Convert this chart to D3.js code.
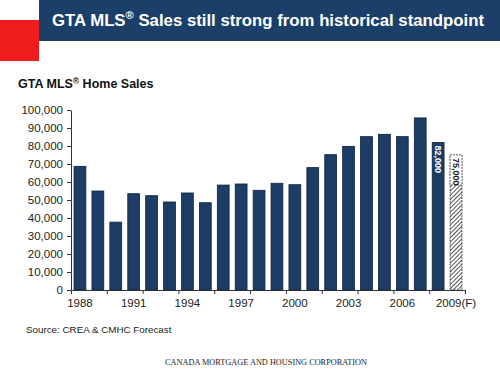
<!DOCTYPE html>
<html>
<head>
<meta charset="utf-8">
<script src="https://d3js.org/d3.v7.min.js"></script>
<style>
  body { margin: 0; background: #fff; }
  svg { display: block; font-family: "Liberation Sans", Arial, sans-serif; }
  .axis text { font-size: 11.5px; fill: #222; }
  .axis path, .axis line { stroke: #333; }
</style>
</head>
<body>
<svg width="500" height="374"></svg>
<script>
// data
var years = ["1988","1989","1990","1991","1992","1993","1994","1995","1996","1997","1998",
             "1999","2000","2001","2002","2003","2004","2005","2006","2007","2008","2009"];
var sales = [68700, 55000, 37700, 53500, 52400, 48900, 53900, 48500, 58300, 58900, 55400,
             59300, 58500, 68000, 75200, 79800, 85200, 86500, 85200, 95600, 82000, 75000];
var yearLabels = ["1988","1991","1994","1997","2000","2003","2006","2009"];
var forecastYear = "2009";
var barLabels = { "2008": "82,000", "2009": "75,000" };

var svg = d3.select("svg");

// header band + red block
svg.append("rect").attr("x", 39).attr("y", 0).attr("width", 461).attr("height", 41).attr("fill", "#1c3f6a");
svg.append("rect").attr("x", 0).attr("y", 20).attr("width", 39).attr("height", 41).attr("fill", "#ee1c1c");

var title = svg.append("text")
  .attr("x", 52).attr("y", 26)
  .attr("fill", "#fff")
  .attr("font-size", "16.5px")
  .attr("font-weight", "bold")
  .attr("textLength", 432)
  .attr("lengthAdjust", "spacingAndGlyphs");
title.append("tspan").text("GTA MLS");
title.append("tspan").attr("font-size", "11px").attr("dy", -7).text("®");
title.append("tspan").attr("dy", 7).text(" Sales still strong from historical standpoint");

var sub = svg.append("text")
  .attr("x", 18).attr("y", 88)
  .attr("fill", "#111")
  .attr("font-size", "12.5px")
  .attr("font-weight", "bold");
sub.append("tspan").text("GTA MLS");
sub.append("tspan").attr("font-size", "8.5px").attr("dy", -4).text("®");
sub.append("tspan").attr("dy", 4).text(" Home Sales");

// scales
var plotLeft = 71, plotRight = 465, plotTop = 110, plotBottom = 290;
var x = d3.scaleBand().domain(years).range([plotLeft, plotRight]).paddingInner(0.34).paddingOuter(0.17);
var y = d3.scaleLinear().domain([0, 100000]).range([plotBottom, plotTop]);
var xb = d3.scaleLinear().domain([0, years.length]).range([plotLeft, plotRight]);

// hatch pattern for the forecast
var defs = svg.append("defs");
var pat = defs.append("pattern")
  .attr("id", "hatch").attr("patternUnits", "userSpaceOnUse")
  .attr("width", 3).attr("height", 3)
  .attr("patternTransform", "rotate(45)");
pat.append("rect").attr("width", 3).attr("height", 3).attr("fill", "#fff");
pat.append("line").attr("x1", 0).attr("y1", 0).attr("x2", 0).attr("y2", 3)
  .attr("stroke", "#2a2a2a").attr("stroke-width", 1.6);

// y axis
svg.append("g")
  .attr("class", "axis")
  .attr("transform", "translate(" + plotLeft + ",0)")
  .call(d3.axisLeft(y).ticks(10).tickFormat(d3.format(",")).tickSize(4).tickSizeOuter(0).tickPadding(4));

// bars
svg.selectAll(".bar")
  .data(years)
  .enter()
  .append("rect")
  .attr("class", "bar")
  .attr("x", function(d) { return x(d); })
  .attr("width", x.bandwidth())
  .attr("y", function(d, i) { return y(sales[i]); })
  .attr("height", function(d, i) { return plotBottom - y(sales[i]); })
  .attr("fill", function(d) { return d === forecastYear ? "url(#hatch)" : "#1b3d66"; })
  .attr("stroke", function(d) { return d === forecastYear ? "#333" : "#0e223a"; })
  .attr("stroke-width", 0.8)
  .attr("stroke-dasharray", function(d) { return d === forecastYear ? "2,1" : null; });

// forecast label box
var fi = years.indexOf(forecastYear);
svg.append("rect")
  .attr("x", x(forecastYear))
  .attr("y", y(sales[fi]))
  .attr("width", x.bandwidth())
  .attr("height", 30)
  .attr("fill", "#fff")
  .attr("stroke", "#333")
  .attr("stroke-width", 0.8)
  .attr("stroke-dasharray", "1.5,1.5");

// value labels (rotated)
Object.keys(barLabels).forEach(function(k) {
  var i = years.indexOf(k);
  var cx = x(k) + x.bandwidth() / 2;
  var ty = y(sales[i]) + 3;
  svg.append("text")
    .attr("transform", "translate(" + (cx - 3) + "," + ty + ") rotate(90)")
    .attr("font-size", "9px")
    .attr("font-weight", "bold")
    .attr("fill", k === forecastYear ? "#222" : "#fff")
    .text(barLabels[k]);
});

// x axis: boundary ticks every two categories
svg.append("g")
  .attr("class", "axis")
  .attr("transform", "translate(0," + plotBottom + ")")
  .call(d3.axisBottom(xb).tickValues(d3.range(0, years.length + 1, 2)).tickFormat("").tickSize(4).tickSizeOuter(0));

// x axis labels every three years
svg.append("g")
  .attr("class", "axis")
  .attr("transform", "translate(0," + plotBottom + ")")
  .call(d3.axisBottom(x).tickValues(yearLabels).tickSize(0).tickPadding(9)
    .tickFormat(function(d) { return d === forecastYear ? d + "(F)" : d; }))
  .select(".domain").remove();

// source
svg.append("text")
  .attr("x", 26).attr("y", 333)
  .attr("font-size", "9.8px")
  .attr("fill", "#222")
  .text("Source: CREA & CMHC Forecast");

// footer
svg.append("text")
  .attr("x", 266).attr("y", 365)
  .attr("text-anchor", "middle")
  .attr("font-family", "'Liberation Serif', serif")
  .attr("font-size", "8px")
  .attr("fill", "#222")
  .attr("textLength", 202)
  .attr("lengthAdjust", "spacingAndGlyphs")
  .text("CANADA MORTGAGE AND HOUSING CORPORATION");
</script>
</body>
</html>
